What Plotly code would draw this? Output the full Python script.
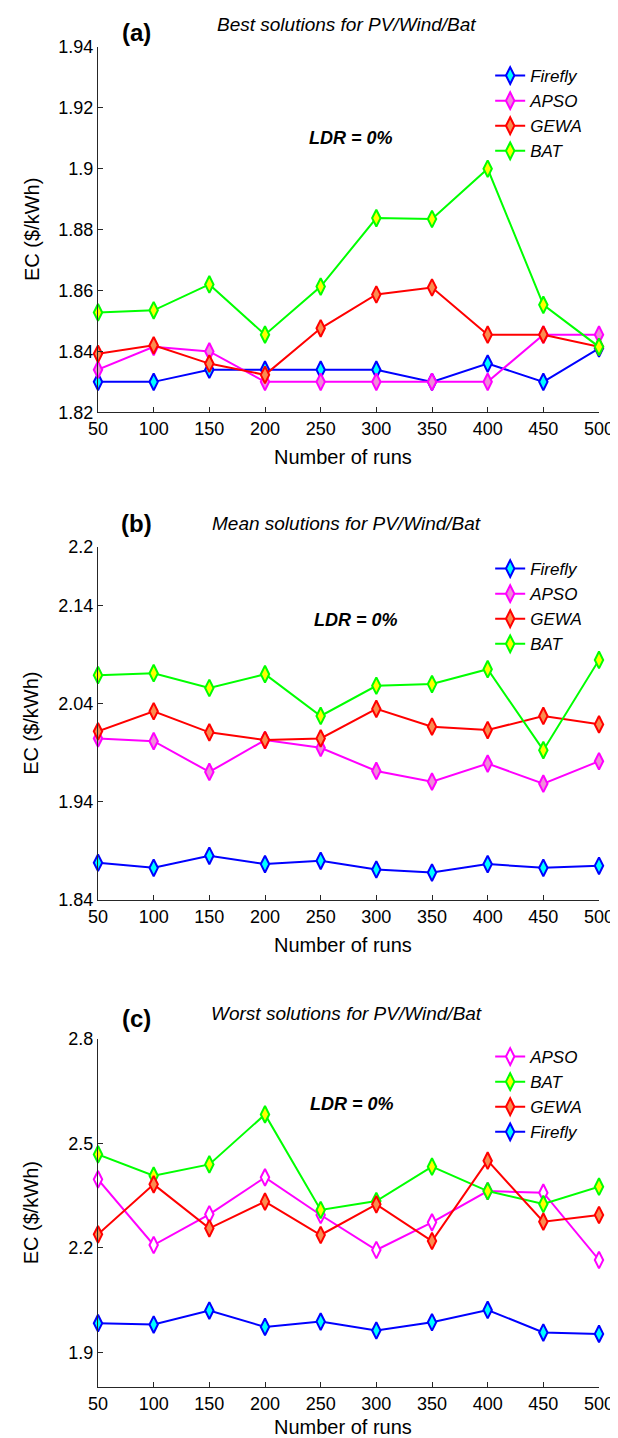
import plotly.graph_objects as go

# ---------------- data ----------------
runs = [50, 100, 150, 200, 250, 300, 350, 400, 450, 500]

# (a) Best solutions
best_firefly = [1.830, 1.830, 1.834, 1.834, 1.834, 1.834, 1.830, 1.836, 1.830, 1.841]
best_apso    = [1.834, 1.8415, 1.840, 1.830, 1.830, 1.830, 1.830, 1.830, 1.8455, 1.8455]
best_gewa    = [1.8392, 1.842, 1.836, 1.8323, 1.8476, 1.8587, 1.861, 1.8455, 1.8455, 1.8415]
best_bat     = [1.8528, 1.8535, 1.862, 1.8455, 1.8613, 1.8838, 1.8835, 1.900, 1.8553, 1.8415]

# (b) Mean solutions
mean_firefly = [1.878, 1.8728, 1.8851, 1.8766, 1.880, 1.8711, 1.868, 1.8766, 1.8728, 1.8749]
mean_apso    = [2.0048, 2.002, 1.9706, 2.0031, 1.9952, 1.9716, 1.9607, 1.9791, 1.9586, 1.9815]
mean_gewa    = [2.012, 2.0325, 2.011, 2.0031, 2.0048, 2.0349, 2.0168, 2.0133, 2.0277, 2.0191]
mean_bat     = [2.0693, 2.0713, 2.0562, 2.0703, 2.0277, 2.0585, 2.0602, 2.0754, 1.9928, 2.0848]

# (c) Worst solutions
worst_apso    = [2.3967, 2.208, 2.2962, 2.4024, 2.2942, 2.1937, 2.2732, 2.363, 2.3584, 2.165]
worst_bat     = [2.4684, 2.4072, 2.4397, 2.5833, 2.3086, 2.3344, 2.4331, 2.363, 2.3258, 2.3756]
worst_gewa    = [2.2387, 2.3823, 2.256, 2.3326, 2.2368, 2.3249, 2.2195, 2.4503, 2.2751, 2.2942]
worst_firefly = [1.9833, 1.9795, 2.0197, 1.9727, 1.988, 1.9623, 1.9861, 2.0214, 1.9565, 1.9526]

yticks_a = [1.82, 1.84, 1.86, 1.88, 1.90, 1.92, 1.94]
ytext_a = ["1.82", "1.84", "1.86", "1.88", "1.9", "1.92", "1.94"]
yticks_b = [1.84, 1.94, 2.04, 2.14, 2.2]
ytext_b = ["1.84", "1.94", "2.04", "2.14", "2.2"]
yticks_c = [1.9, 2.2, 2.5, 2.8]
ytext_c = ["1.9", "2.2", "2.5", "2.8"]

titles = ["Best solutions for PV/Wind/Bat", "Mean solutions for PV/Wind/Bat",
          "Worst solutions for PV/Wind/Bat"]
panel_labels = ["(a)", "(b)", "(c)"]

# ---------------- styling ----------------
FONT = "Liberation Sans, Arial, Helvetica, sans-serif"
W_FIG, H_FIG = 618, 1438
ML, MR, MT, MB = 90, 17, 39, 59
PW = W_FIG - ML - MR
PH = H_FIG - MT - MB


def px_x(px):
    return (px - ML) / PW


def px_y(py):
    return (H_FIG - MB - py) / PH


styles = {
    "Firefly": dict(line="#0000ff", fill="#00ffff"),
    "APSO": dict(line="#ff00ff", fill="#f08cd8"),
    "GEWA": dict(line="#ff0000", fill="#fa8c50"),
    "BAT": dict(line="#00ff00", fill="#ffff00"),
}

fig = go.Figure()


def add(name, ys, idx, legend, fill=None):
    st = styles[name]
    xa = "x" if idx == 1 else f"x{idx}"
    ya = "y" if idx == 1 else f"y{idx}"
    fig.add_trace(go.Scatter(
        x=runs, y=ys, name=name, mode="lines+markers",
        xaxis=xa, yaxis=ya, legend=legend, cliponaxis=False,
        line=dict(color=st["line"], width=2),
        marker=dict(symbol="diamond-tall", size=12, color=fill or st["fill"],
                    line=dict(color=st["line"], width=2)),
    ))


add("Firefly", best_firefly, 1, "legend")
add("APSO", best_apso, 1, "legend")
add("GEWA", best_gewa, 1, "legend")
add("BAT", best_bat, 1, "legend")

add("Firefly", mean_firefly, 2, "legend2")
add("APSO", mean_apso, 2, "legend2")
add("GEWA", mean_gewa, 2, "legend2")
add("BAT", mean_bat, 2, "legend2")

add("APSO", worst_apso, 3, "legend3", fill="#ffffff")
add("BAT", worst_bat, 3, "legend3")
add("GEWA", worst_gewa, 3, "legend3")
add("Firefly", worst_firefly, 3, "legend3")

# panel pixel extents (top, bottom)
panels = [(39, 404.3), (539, 892), (1031, 1379)]
xtitle_gap = [45, 45, 40]
yranges = [[1.82, 1.94], [1.84, 2.2], [1.8, 2.8]]
yt = [(yticks_a, ytext_a), (yticks_b, ytext_b), (yticks_c, ytext_c)]

axis_common = dict(showgrid=False, zeroline=False, showline=True, linecolor="#262626",
                   linewidth=1, ticks="inside", ticklen=5, tickcolor="#262626",
                   tickfont=dict(family=FONT, size=18, color="#000000"), mirror=False)

layout = dict(
    width=W_FIG, height=H_FIG, plot_bgcolor="white", paper_bgcolor="white",
    margin=dict(l=ML, r=MR, t=MT, b=MB), font=dict(family=FONT, color="#000000"),
    showlegend=True,
)

annotations = []
for i in range(3):
    s = "" if i == 0 else str(i + 1)
    top, bot = panels[i]
    layout["xaxis" + s] = dict(axis_common, domain=[0, 1], anchor="y" + s,
                               range=[50, 500], tickvals=runs,
                               ticktext=[str(r) for r in runs])
    layout["yaxis" + s] = dict(axis_common, domain=[px_y(bot), px_y(top)],
                               anchor="x" + s, range=yranges[i],
                               tickvals=yt[i][0], ticktext=yt[i][1])
    # axis titles
    annotations.append(dict(text="Number of runs", xref="paper", yref="paper",
                            x=px_x(340), y=px_y(bot + xtitle_gap[i]), xanchor="center",
                            yanchor="middle", showarrow=False,
                            font=dict(family=FONT, size=20)))
    annotations.append(dict(text="EC ($/kWh)", xref="paper", yref="paper",
                            x=px_x(22), y=px_y((top + bot) / 2), xanchor="center",
                            yanchor="middle", textangle=-90, showarrow=False,
                            font=dict(family=FONT, size=20)))

# titles and panel labels
title_y = [16.7, 515, 1005]
label_y = [25, 515, 1010]
for i in range(3):
    annotations.append(dict(text=titles[i], xref="paper", yref="paper",
                            x=px_x(343), y=px_y(title_y[i]), xanchor="center",
                            yanchor="middle", showarrow=False,
                            font=dict(family=FONT, size=19, style="italic")))
    annotations.append(dict(text="<b>" + panel_labels[i] + "</b>", xref="paper",
                            yref="paper", x=px_x(129), y=px_y(label_y[i]),
                            xanchor="center", yanchor="middle", showarrow=False,
                            font=dict(family=FONT, size=24)))

# LDR labels (data coordinates)
ldr_pos = [(277, 1.910, ""), (282, 2.126, "2"), (278, 2.613, "3")]
for x, y, s in ldr_pos:
    annotations.append(dict(text="<b><i>LDR = 0%</i></b>", xref="x" + s, yref="y" + s,
                            x=x, y=y, xanchor="center", yanchor="middle",
                            showarrow=False, font=dict(family=FONT, size=18)))

layout["annotations"] = annotations

leg_common = dict(bgcolor="rgba(0,0,0,0)", borderwidth=0, xanchor="left", yanchor="top",
                  font=dict(family=FONT, size=17, style="italic", color="#000000"),
                  itemwidth=30, tracegroupgap=0)
layout["legend"] = dict(leg_common, x=px_x(490), y=px_y(50))
layout["legend2"] = dict(leg_common, x=px_x(490), y=px_y(543))
layout["legend3"] = dict(leg_common, x=px_x(490), y=px_y(1031))

fig.update_layout(**layout)
fig.write_html("out.html")
